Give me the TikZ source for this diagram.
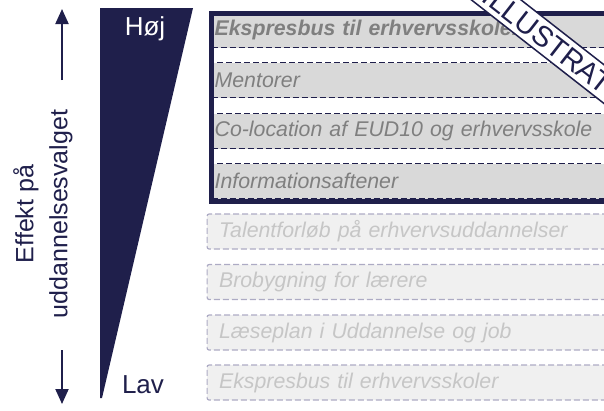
\documentclass[tikz,border=0pt]{standalone}
\usepackage{fontspec}
\setmainfont{Liberation Sans}
\usetikzlibrary{arrows.meta}
\definecolor{navy}{HTML}{1F1F4B}
\definecolor{rowfill}{HTML}{D9D9D9}
\definecolor{rowtext}{HTML}{7F7F7F}
\definecolor{lowfill}{HTML}{F0F0F0}
\definecolor{lowdraw}{HTML}{ADABC4}
\definecolor{lowtext}{HTML}{C6C6C6}
\begin{document}
\begin{tikzpicture}[x=1pt,y=-1pt,
  rowbox/.style={fill=rowfill, draw=navy, dash pattern=on 6pt off 3pt, line width=1.3pt,
    anchor=west, minimum width=420pt, text width=414pt, inner xsep=3pt, minimum height=35pt,
    align=left, text=rowtext, font=\fontsize{21.3}{24}\selectfont\itshape},
  lowbox/.style={fill=lowfill, draw=lowdraw, dash pattern=on 6pt off 3pt, line width=1.2pt,
    rounded corners=2pt, anchor=west, minimum width=430pt, text width=406pt, inner xsep=12pt,
    minimum height=35pt, align=left, text=lowtext, font=\fontsize{21.3}{24}\selectfont\itshape},
  arr/.style={navy, line width=2pt, -{Triangle[length=15pt,width=13pt]}}
]
\useasboundingbox (0,0) rectangle (604,410);
\clip (0,0) rectangle (604,410);

% left axis
\coordinate (atop) at (62,9);
\coordinate (amid1) at (62,80);
\coordinate (amid2) at (62,350);
\coordinate (abot) at (62,404);
\draw[arr] (amid1) -- (atop);
\draw[arr] (amid2) -- (abot);
\node[rotate=90, align=center, text=navy, font=\fontsize{25}{34}\selectfont] (axislabel) at (43,214)
  {Effekt på\\uddannelsesvalget};

% wedge
\fill[navy] (100,8) -- (193,8) -- (102,398) -- (100,398) -- cycle;
\node[text=white, font=\fontsize{26}{28}\selectfont] (hoej) at (145,29) {Høj};
\node[text=navy, font=\fontsize{26}{28}\selectfont] (lav) at (143,385) {Lav};

% upper rows
\node[rowbox, font=\fontsize{21.3}{24}\selectfont\itshape\bfseries] (r1) at (211,30) {Ekspresbus til erhvervsskoler};
\node[rowbox] (r2) at (211,80) {Mentorer};
\node[rowbox] (r3) at (211,131) {Co-location af EUD10 og erhvervsskole};
\node[rowbox] (r4) at (211,181) {Informationsaftener};
\node[draw=navy, line width=5pt, anchor=north west, minimum width=430pt, minimum height=188pt, inner sep=0pt] (frame) at (208.5,10.5) {};

% lower rows
\node[lowbox] (l1) at (206.5,231.5) {Talentforløb på erhvervsuddannelser};
\node[lowbox] (l2) at (206.5,282) {Brobygning for lærere};
\node[lowbox] (l3) at (206.5,332.5) {Læseplan i Uddannelse og job};
\node[lowbox] (l4) at (206.5,382.5) {Ekspresbus til erhvervsskoler};

% stamp
\node[rotate=-38, fill=white, draw=navy, line width=1.5pt, text=navy, inner xsep=8pt, inner ysep=5pt,
  font=\fontsize{29}{30}\selectfont] (stamp) at (568,56) {ILLUSTRATION};
\end{tikzpicture}
\end{document}
